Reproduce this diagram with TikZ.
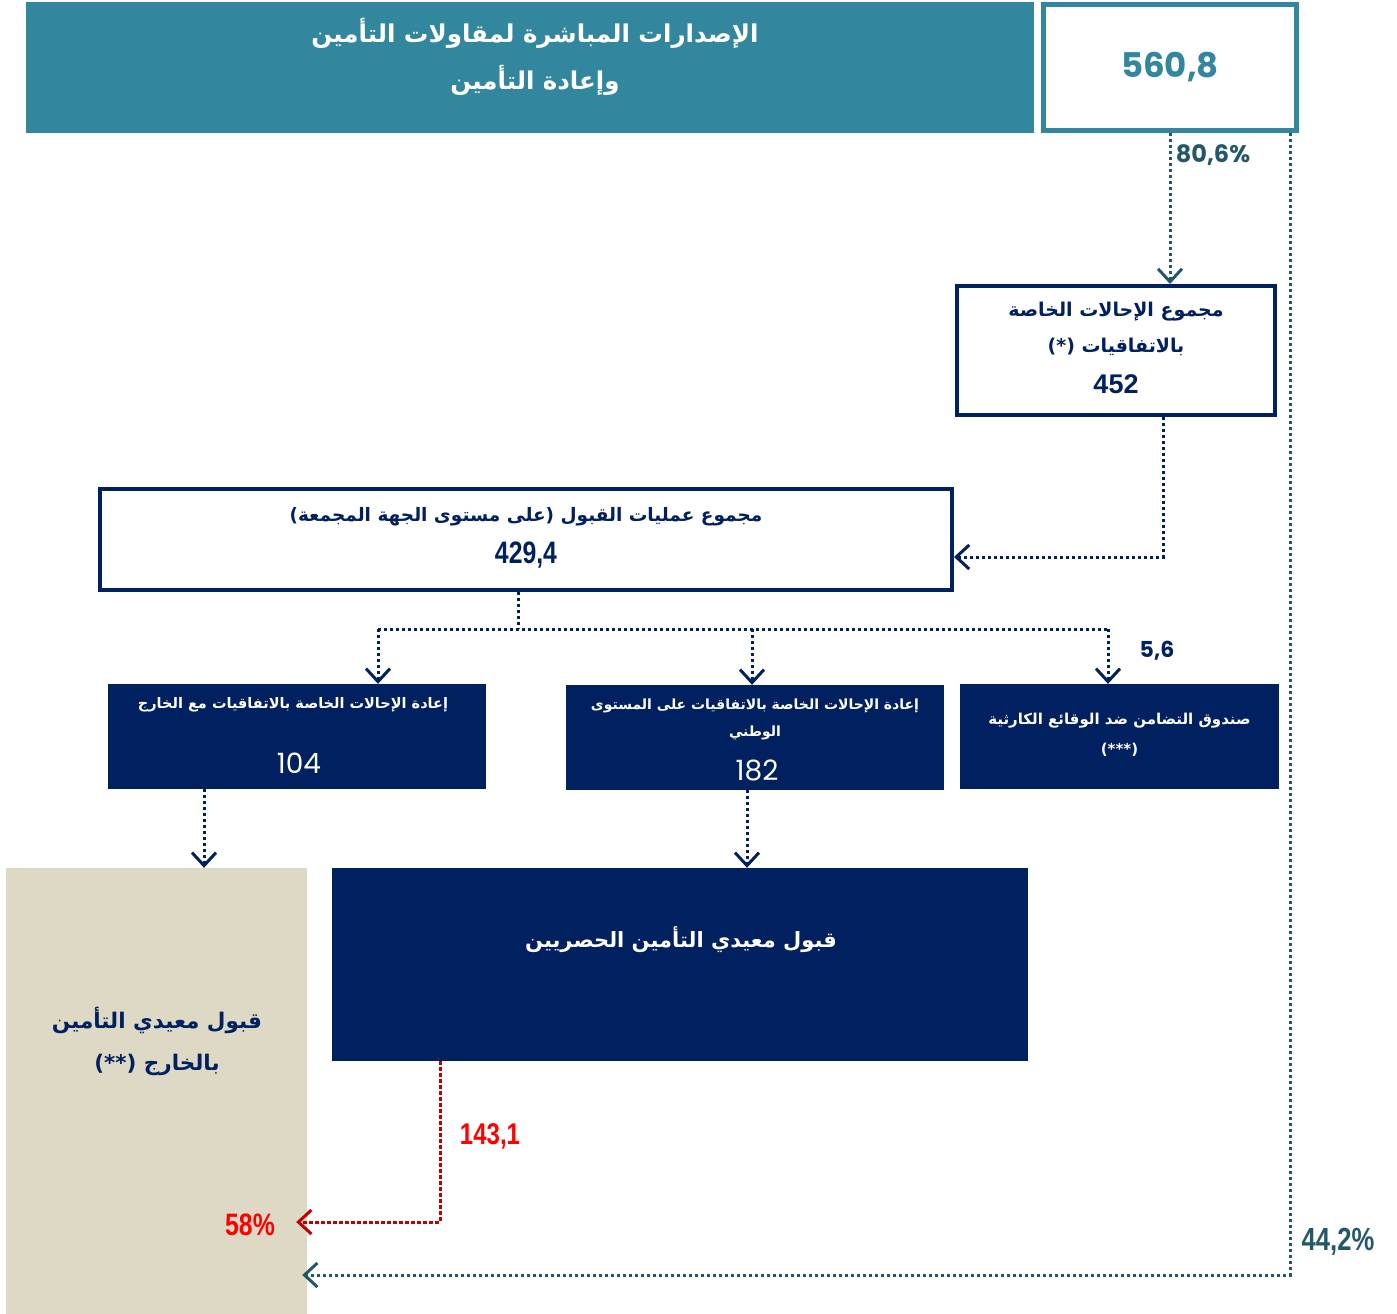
\documentclass[tikz,border=0pt]{standalone}
\usepackage{fontspec}
\setmainfont{Poppins}
\newfontfamily\arabicfont[Script=Arabic]{DejaVu Sans}
\newfontfamily\narrowfont[FakeStretch=0.8]{Liberation Sans}
\newfontfamily\arialfont{Liberation Sans}
\TeXXeTstate=1
\usetikzlibrary{arrows.meta}

\definecolor{tealfill}{RGB}{50,135,158}
\definecolor{tealline}{RGB}{35,88,104}
\definecolor{navy}{RGB}{0,32,96}
\definecolor{beige}{RGB}{221,217,196}
\definecolor{darkred}{RGB}{192,0,0}

\newcommand{\ar}[1]{{\arabicfont\bfseries\beginR #1\endR}}

\tikzset{
  framebox/.style={draw=navy, line width=4pt, fill=white, inner sep=0pt},
  navybox/.style={fill=navy, inner sep=0pt, minimum height=105pt},
  dotline/.style={navy, line width=3pt, dash pattern=on 3pt off 3pt},
  vtip/.style={-{Straight Barb[length=13pt,width=24pt,line width=3pt]}},
}

\begin{document}
\begin{tikzpicture}[x=1pt,y=-1pt]
\useasboundingbox (0,0) rectangle (1397,1314);

% top row
\node[fill=tealfill, minimum width=1008pt, minimum height=131pt, inner sep=0pt] (issue) at (530,67.5) {};
\node[text=white, font=\fontsize{24.5}{47}\selectfont, align=center] (issuetxt) at (535,57)
  {\ar{الإصدارات المباشرة لمقاولات التأمين}\\\ar{وإعادة التأمين}};
\node[draw=tealfill, line width=5pt, fill=white, minimum width=253pt, minimum height=126pt, inner sep=0pt,
  text=tealfill, font=\fontsize{34}{34}\selectfont\bfseries] (total) at (1170,67.5) {560,8};

% conventions
\node[framebox, minimum width=318pt, minimum height=129pt] (conv) at (1116,350.5) {};
\node[text=navy, font=\fontsize{19}{36}\selectfont, align=center] (convtxt) at (1116,329)
  {\ar{مجموع الإحالات الخاصة}\\\ar{بالاتفاقيات (*)}};
\node[text=navy, font=\arialfont\bfseries\fontsize{27}{27}\selectfont] (convval) at (1116,384) {452};

% acceptances
\node[framebox, minimum width=852pt, minimum height=101pt] (accept) at (526,539.5) {};
\node[text=navy, font=\fontsize{18.5}{18.5}\selectfont] (accepttxt) at (526,517)
  {\ar{مجموع عمليات القبول (على مستوى الجهة المجمعة)}};
\node[text=navy, font=\narrowfont\bfseries\fontsize{31}{31}\selectfont] (acceptval) at (526,555) {429,4};

% retrocessions
\node[navybox, minimum width=378pt] (foreign) at (297,736.5) {};
\node[text=white, font=\fontsize{14.5}{28}\selectfont] (foreigntxt) at (293,705)
  {\ar{إعادة الإحالات الخاصة بالاتفاقيات مع الخارج}};
\node[text=white, font=\fontsize{28}{28}\selectfont] (foreignval) at (299,763) {104};

\node[navybox, minimum width=378pt] (domestic) at (755,737.5) {};
\node[text=white, font=\fontsize{14}{27}\selectfont, align=center] (domestictxt) at (755,719.5)
  {\ar{إعادة الإحالات الخاصة بالاتفاقيات على المستوى}\\\ar{الوطني}};
\node[text=white, font=\fontsize{28}{28}\selectfont] (domesticval) at (757,770) {182};

\node[navybox, minimum width=319pt] (fund) at (1119.5,736.5) {};
\node[text=white, font=\fontsize{15}{30}\selectfont, align=center] (fundtxt) at (1119.5,735)
  {\ar{صندوق التضامن ضد الوقائع الكارثية}\\\ar{(***)}};

% reinsurers
\node[fill=beige, minimum width=301pt, minimum height=446pt, inner sep=0pt] (abroad) at (156.5,1091) {};
\node[text=navy, font=\fontsize{21.5}{42}\selectfont, align=center] (abroadtxt) at (157,1041)
  {\ar{قبول معيدي التأمين}\\\ar{بالخارج (**)}};
\node[fill=navy, minimum width=696pt, minimum height=193pt, inner sep=0pt] (excl) at (680,964.5) {};
\node[text=white, font=\fontsize{21}{21}\selectfont] (excltxt) at (681,940)
  {\ar{قبول معيدي التأمين الحصريين}};

% connectors
\coordinate (c442) at (1290,1275);
\coordinate (c1) at (1163,557);
\coordinate (split) at (518,629);
\coordinate (d1) at (378,629);
\coordinate (d2) at (752,629);
\coordinate (d3) at (1108,629);
\coordinate (fx) at (204,800);
\coordinate (ex) at (747,800);
\coordinate (c143) at (440,1222);

\draw[dotline, tealline, vtip] (total.south) -- (total.south |- conv.north);
\draw[dotline, tealline, vtip, shorten >=-5pt] (total.south -| c442) -- (c442) -- (c442 -| abroad.east);
\draw[dotline, vtip] (conv.south -| c1) -- (c1) -- (c1 -| accept.east);
\draw[dotline] (accept.south -| split) -- (split);
\draw[dotline] (d1) -- (d3);
\foreach \d/\b in {d1/foreign, d2/domestic, d3/fund}
  \draw[dotline, vtip] (\d) -- (\d |- \b.north);
\draw[dotline, vtip] (foreign.south -| fx) -- (fx |- abroad.north);
\draw[dotline, vtip] (domestic.south -| ex) -- (ex |- excl.north);
\draw[dotline, darkred, dash pattern=on 4pt off 2pt, vtip, shorten >=-11pt]
  (excl.south -| c143) -- (c143) -- (c143 -| abroad.east);

% labels
\node[text=tealline, font=\fontsize{24}{24}\selectfont\bfseries] (l806) at (1213,155) {80,6\%};
\node[text=tealline, font=\narrowfont\bfseries\fontsize{32}{32}\selectfont] (l442) at (1338,1242) {44,2\%};
\node[text=navy, font=\fontsize{22}{22}\selectfont\bfseries] (l56) at (1157,651) {5,6};
\node[text=red, font=\narrowfont\bfseries\fontsize{30}{30}\selectfont] (l143) at (490,1136) {143,1};
\node[text=red, font=\narrowfont\bfseries\fontsize{31}{31}\selectfont] (l58) at (250,1225) {58\%};
\end{tikzpicture}
\end{document}
